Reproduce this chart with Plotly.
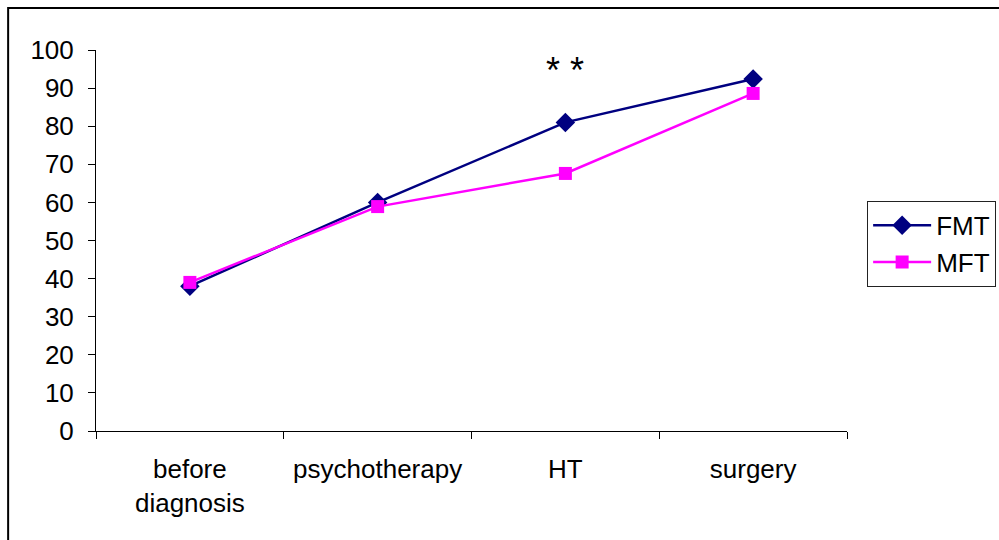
import plotly.graph_objects as go

categories = ["before<br>diagnosis", "psychotherapy", "HT", "surgery"]
fmt_values = [38, 60, 81, 92.4]
mft_values = [39, 58.9, 67.6, 88.6]
y_ticks = [0, 10, 20, 30, 40, 50, 60, 70, 80, 90, 100]

FONT = "Arial, Liberation Sans, sans-serif"

fig = go.Figure()
fig.add_trace(go.Scatter(
    x=categories, y=fmt_values, name="FMT", mode="lines+markers",
    line=dict(color="#000080", width=2.5),
    marker=dict(symbol="diamond", size=15, color="#000080"),
))
fig.add_trace(go.Scatter(
    x=categories, y=mft_values, name="MFT", mode="lines+markers",
    line=dict(color="#FF00FF", width=2.5),
    marker=dict(symbol="square", size=13, color="#FF00FF"),
))

# significance marker above HT
fig.add_annotation(x="HT", y=94.5, text="* *", showarrow=False,
                   font=dict(family=FONT, size=36, color="black"),
                   xref="x", yref="y")

# outer chart frame
fig.add_shape(type="rect", xref="paper", yref="paper",
              x0=-0.117, x1=1.3, y0=-0.5, y1=1.110,
              line=dict(color="black", width=2), layer="below")

fig.update_layout(
    width=999, height=540,
    margin=dict(l=96, r=152, t=50, b=109, autoexpand=False),
    paper_bgcolor="white", plot_bgcolor="white",
    font=dict(family=FONT, size=26, color="black"),
    showlegend=True,
    legend=dict(xref="container", yref="container",
                x=0.868, y=0.628, xanchor="left", yanchor="top",
                bordercolor="#222222", borderwidth=1, bgcolor="white",
                font=dict(family=FONT, size=26), itemwidth=58,
                tracegroupgap=0),
    xaxis=dict(
        type="category", range=[-0.5, 3.5],
        showline=True, linecolor="black", linewidth=1,
        ticks="outside", ticklen=7, tickcolor="black", tickson="boundaries",
        showgrid=False, zeroline=False,
        tickfont=dict(family=FONT, size=26),
        ticklabelstandoff=15,
    ),
    yaxis=dict(
        range=[0, 100], tickvals=y_ticks,
        showline=True, linecolor="black", linewidth=1,
        ticks="outside", ticklen=7, tickcolor="black",
        showgrid=False, zeroline=False,
        tickfont=dict(family=FONT, size=26),
        ticklabelstandoff=9,
    ),
)

fig.write_html("out.html")
